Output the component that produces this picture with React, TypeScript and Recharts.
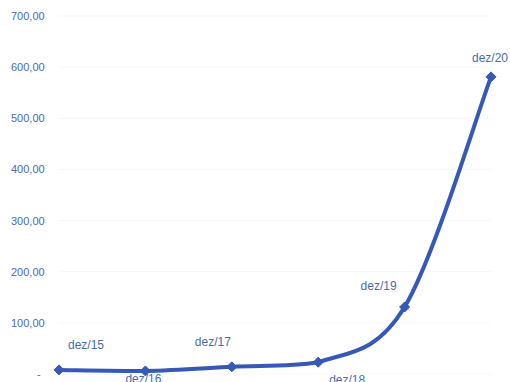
import React from "react";
import { LineChart, Line, XAxis, YAxis, CartesianGrid, LabelList } from "recharts";

const categories = ["dez/15", "dez/16", "dez/17", "dez/18", "dez/19", "dez/20"];
const values = [8, 6, 14, 23, 131, 581];
const yTicks = [0, 100, 200, 300, 400, 500, 600, 700];

// label placement offsets (dx, dy) relative to each point
const labelOffsets: [number, number][] = [
  [27, -25],
  [-2, 8],
  [-19, -25],
  [29, 18],
  [-26, -21],
  [-1, -19],
];

const data = categories.map((c, i) => ({ name: c, value: values[i] }));

const LINE = "#3558b9";
const TEXT = "#4a6bb0";
const FONT = "Liberation Sans, Arial, sans-serif";

const fmt = (v: number) => (v === 0 ? "-" : v.toFixed(2).replace(".", ","));

const clamp = (v: number, a: number, b: number) =>
  Math.max(Math.min(a, b), Math.min(Math.max(a, b), v));

// Excel-like smoothed line (Catmull-Rom style Bezier, no overshoot)
const excelCurve = (context: any) => {
  let pts: [number, number][] = [];
  return {
    areaStart() {},
    areaEnd() {},
    lineStart() {
      pts = [];
    },
    point(x: number, y: number) {
      pts.push([+x, +y]);
    },
    lineEnd() {
      const n = pts.length;
      if (!n) return;
      context.moveTo(pts[0][0], pts[0][1]);
      for (let i = 0; i < n - 1; i++) {
        const p0 = pts[i - 1] || pts[i];
        const p1 = pts[i];
        const p2 = pts[i + 1];
        const p3 = pts[i + 2] || pts[i + 1];
        const c1x = p1[0] + (p2[0] - p0[0]) / 6;
        const c1y = clamp(p1[1] + (p2[1] - p0[1]) / 6, p1[1], p2[1]);
        const c2x = p2[0] - (p3[0] - p1[0]) / 6;
        const c2y = clamp(p2[1] - (p3[1] - p1[1]) / 6, p1[1], p2[1]);
        context.bezierCurveTo(c1x, c1y, c2x, c2y, p2[0], p2[1]);
      }
    },
  };
};

const YTick = (props: any) => {
  const { y, payload } = props;
  const v = payload.value;
  return (
    <text
      x={v === 0 ? 37 : 11}
      y={y}
      dy={4}
      fill={TEXT}
      fontSize={11}
      fontFamily={FONT}
    >
      {fmt(v)}
    </text>
  );
};

const PointLabel = (props: any) => {
  const { x, y, index } = props;
  const [dx, dy] = labelOffsets[index];
  return (
    <text
      x={x + dx}
      y={y + dy}
      dy={4}
      textAnchor="middle"
      fill={TEXT}
      fontSize={12}
      fontFamily={FONT}
    >
      {categories[index]}
    </text>
  );
};

const Diamond = (props: any) => {
  const { cx, cy } = props;
  const s = 5;
  return (
    <path
      d={`M${cx},${cy - s}L${cx + s},${cy}L${cx},${cy + s}L${cx - s},${cy}Z`}
      fill={LINE}
      stroke={LINE}
    />
  );
};

export default function App() {
  return (
    <div style={{ position: "absolute", left: 0, top: 0, background: "#fff" }}>
      <LineChart
        width={510}
        height={382}
        data={data}
        margin={{ top: 16, right: 19, bottom: 8, left: 0 }}
      >
        <CartesianGrid vertical={false} stroke="#f6f7fa" />
        <XAxis dataKey="name" hide padding={{ left: 0, right: 0 }} />
        <YAxis
          domain={[0, 700]}
          ticks={yTicks}
          width={59}
          axisLine={false}
          tickLine={false}
          tick={<YTick />}
          interval={0}
        />
        <Line
          type={excelCurve as any}
          dataKey="value"
          stroke={LINE}
          strokeWidth={4}
          dot={<Diamond />}
          isAnimationActive={false}
        >
          <LabelList dataKey="value" content={<PointLabel />} />
        </Line>
      </LineChart>
    </div>
  );
}
